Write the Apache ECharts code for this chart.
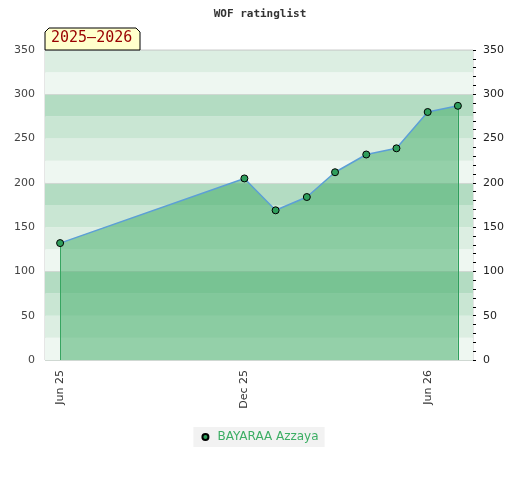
<!DOCTYPE html>
<html>

<head>
  <meta charset="UTF-8">
  <title>WOF ratinglist</title>
</head>

<body style="margin:0">
  <div id="main" style="width: 520px; height: 480px;"></div>
  <script src="https://cdn.jsdelivr.net/npm/echarts@6.0.0/dist/echarts.min.js"></script>
  <script>
    // rating list dates and ratings
    const listDates = ['2025-06-01', '2025-12-01', '2026-01-01', '2026-02-01', '2026-03-01',
      '2026-04-01', '2026-05-01', '2026-06-01', '2026-07-01'];
    const ratings = [132, 205, 169, 184, 212, 232, 239, 280, 287];
    const labelDates = ['2025-06-01', '2025-12-01', '2026-06-01'];
    const monthNames = ['Jan', 'Feb', 'Mar', 'Apr', 'May', 'Jun', 'Jul', 'Aug', 'Sep', 'Oct', 'Nov', 'Dec'];
    const playerName = 'BAYARAA Azzaya';
    const seasonText = '2025\u20132026';

    // x values as days since epoch (value axis, so labels can be placed at chosen dates)
    const day = (d) => Math.round(new Date(d + 'T00:00:00Z').getTime() / 86400000);
    const points = listDates.map((d, i) => [day(d), ratings[i]]);
    const first = points[0];
    const last = points[points.length - 1];

    const chartDom = document.getElementById('main');
    const myChart = echarts.init(chartDom);
    const option = {
      animation: false,
      title: {
        text: 'WOF ratinglist',
        left: 'center',
        top: 4,
        textStyle: { fontFamily: 'DejaVu Sans Mono', fontSize: 11, fontWeight: 'bold', color: '#333' }
      },
      graphic: [{
        type: 'polygon',
        shape: { points: [[45, 50], [45, 32], [49, 28], [136, 28], [140, 32], [140, 50]] },
        style: { fill: '#ffffcc', stroke: '#000', lineWidth: 1 },
        z: 10
      }, {
        type: 'text',
        left: 51,
        top: 31,
        style: { text: seasonText, fill: '#990000', font: '15px "DejaVu Sans Mono"' },
        z: 11
      }],
      legend: {
        top: 427,
        left: 'center',
        backgroundColor: '#f2f2f2',
        padding: [4, 6, 4, 8],
        icon: 'circle',
        itemWidth: 6,
        itemHeight: 6,
        textStyle: { color: '#3cae64', fontSize: 12, fontFamily: 'DejaVu Sans', padding: [0, 0, 0, 4] },
        data: [playerName]
      },
      grid: {
        left: 45,
        right: 47,
        top: 50,
        bottom: 120,
        show: true,
        borderColor: '#ccc',
        borderWidth: 1,
        backgroundColor: 'transparent'
      },
      xAxis: {
        type: 'value',
        min: day('2025-05-17'),
        max: day('2026-07-16'),
        axisLine: { show: false },
        axisTick: { show: false },
        splitLine: { show: false },
        axisLabel: {
          customValues: labelDates.map(day),
          rotate: 90,
          margin: 10,
          color: '#333',
          fontSize: 11,
          fontFamily: 'DejaVu Sans',
          formatter: (v) => {
            const d = new Date(v * 86400000);
            return monthNames[d.getUTCMonth()] + ' ' + String(d.getUTCFullYear()).slice(2);
          }
        }
      },
      yAxis: [{
        type: 'value',
        min: 0,
        max: 350,
        interval: 25,
        position: 'left',
        axisLine: { show: false },
        axisTick: { show: false },
        splitLine: { show: false },
        splitArea: {
          show: true,
          areaStyle: { color: ['#eef7f1', '#dceee2', '#c9e6d3', '#b3dcc2'] }
        },
        axisLabel: {
          color: '#444',
          fontSize: 11,
          fontFamily: 'DejaVu Sans',
          margin: 10,
          formatter: (v) => (v % 50 === 0 ? String(v) : '')
        }
      }, {
        type: 'value',
        min: 0,
        max: 350,
        interval: 50,
        position: 'right',
        axisLine: { show: false },
        axisTick: { show: true, inside: false, length: 3, lineStyle: { color: '#000' } },
        minorTick: { show: true, splitNumber: 5, length: 3, lineStyle: { color: '#000' } },
        splitLine: { show: false },
        axisLabel: { color: '#222', fontSize: 11, fontFamily: 'DejaVu Sans', margin: 10 }
      }, {
        type: 'value',
        min: 0,
        max: 350,
        interval: 100,
        show: true,
        position: 'left',
        axisLine: { show: false },
        axisTick: { show: false },
        axisLabel: { show: false },
        splitLine: { show: true, lineStyle: { color: '#cfd8d2', width: 1 } }
      }],
      series: [{
        name: playerName,
        type: 'line',
        data: points,
        symbol: 'circle',
        symbolSize: 7,
        lineStyle: { color: '#5c9fd6', width: 1.5 },
        itemStyle: { color: '#2f9e5c', borderColor: '#000', borderWidth: 1 },
        areaStyle: { color: 'rgb(66,172,104)', opacity: 0.52 },
        z: 5,
        markLine: {
          silent: true,
          symbol: 'none',
          label: { show: false },
          lineStyle: { color: '#2f9e5c', type: 'solid', width: 1 },
          data: [
            [{ coord: first }, { coord: [first[0], 0] }],
            [{ coord: last }, { coord: [last[0], 0] }]
          ]
        }
      }]
    };

    myChart.setOption(option);
  </script>
</body>

</html>
